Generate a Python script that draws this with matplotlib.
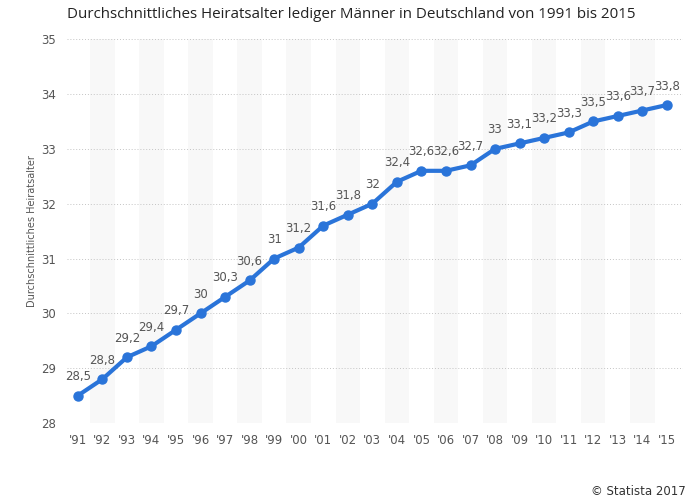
import matplotlib.pyplot as plt

years = ["'91", "'92", "'93", "'94", "'95", "'96", "'97", "'98", "'99", "'00",
         "'01", "'02", "'03", "'04", "'05", "'06", "'07", "'08", "'09", "'10",
         "'11", "'12", "'13", "'14", "'15"]
alter = [28.5, 28.8, 29.2, 29.4, 29.7, 30.0, 30.3, 30.6, 31.0, 31.2,
         31.6, 31.8, 32.0, 32.4, 32.6, 32.6, 32.7, 33.0, 33.1, 33.2,
         33.3, 33.5, 33.6, 33.7, 33.8]

fig = plt.figure(figsize=(6.96, 5.03), dpi=100)
ax = fig.add_axes([0.096, 0.159, 0.885, 0.763])

x = list(range(len(years)))

# alternating light column bands
for i in x:
    if i % 2 == 1:
        ax.axvspan(i - 0.5, i + 0.5, color='#f8f8f8', zorder=0, lw=0)

ax.plot(x, alter, color='#2a74d9', lw=3, marker='o', ms=6.5, zorder=3,
        solid_capstyle='round')

for xi, v in zip(x, alter):
    lbl = ('%g' % v).replace('.', ',')
    ax.annotate(lbl, (xi, v), xytext=(0, 9), textcoords='offset points',
                ha='center', va='bottom', fontsize=8.5, color='#555555')

ax.set_xlim(-0.45, 24.65)
ax.set_ylim(28, 35)
ax.set_xticks(x)
ax.set_xticklabels(years)
ax.set_yticks(range(28, 36))
ax.tick_params(length=0, labelsize=8.5, labelcolor='#555555', pad=8)
ax.yaxis.grid(True, linestyle=(0, (1, 2)), color='#c4c4c4', lw=0.7)
ax.set_axisbelow(True)
for s in ax.spines.values():
    s.set_visible(False)

ax.set_ylabel('Durchschnittliches Heiratsalter', fontsize=7, color='#555555', labelpad=3)

fig.text(0.096, 0.957, 'Durchschnittliches Heiratsalter lediger Männer in Deutschland von 1991 bis 2015',
         fontsize=10.9, color='#222222', family='Open Sans', va='bottom')
fig.text(0.985, 0.015, '© Statista 2017', fontsize=8.5, color='#333333', ha='right')

fig.savefig('out.png', dpi=100)
